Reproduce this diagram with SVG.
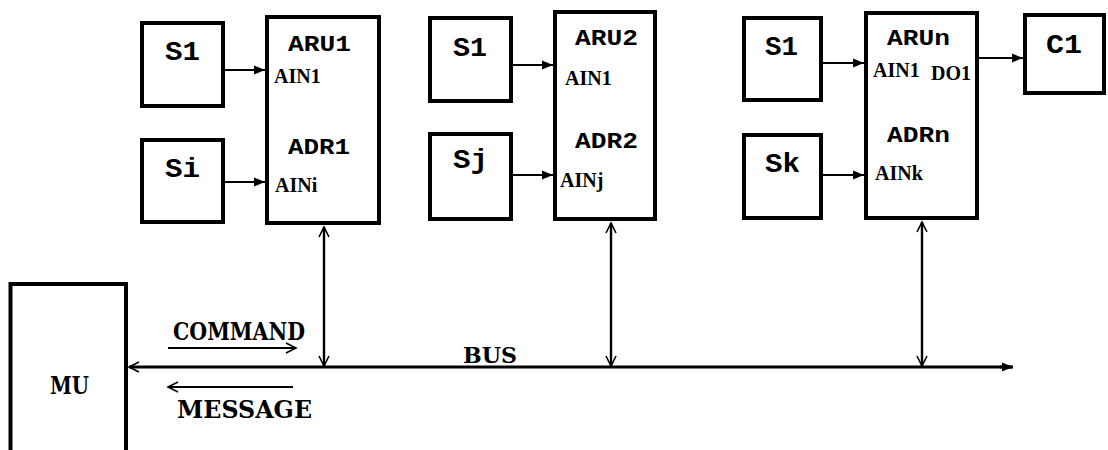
<svg xmlns="http://www.w3.org/2000/svg" width="1108" height="450" viewBox="0 0 1108 450">
<style>
.box{fill:#fff;stroke:#000;stroke-width:4}
.mono{font-family:"Liberation Mono","Courier New",monospace;font-weight:bold;fill:#000}
.big{font-size:28px}
.mid{font-size:22px}
.tm{font-family:"Liberation Serif","Times New Roman",serif;font-weight:bold;font-size:20px;fill:#000}
.sl{font-family:"DejaVu Serif","Liberation Serif",serif;font-weight:bold;fill:#000}
.ln{stroke:#000;fill:none}
</style>
<defs>
<marker id="fa" markerUnits="userSpaceOnUse" markerWidth="12" markerHeight="10" refX="11" refY="5" orient="auto"><path d="M0,0.5 L11,5 L0,9.5 Z" fill="#000"/></marker>
<marker id="oa" markerUnits="userSpaceOnUse" markerWidth="14" markerHeight="14" refX="11" refY="7" orient="auto-start-reverse"><path d="M1,2 L11,7 L1,12" fill="none" stroke="#000" stroke-width="1.6"/></marker>
</defs>
<g id="connectors">
<line class="ln" x1="225" y1="70" x2="265" y2="70" stroke-width="2" marker-end="url(#fa)"/>
<line class="ln" x1="225" y1="182" x2="265" y2="182" stroke-width="2" marker-end="url(#fa)"/>
<line class="ln" x1="513" y1="65" x2="553" y2="65" stroke-width="2" marker-end="url(#fa)"/>
<line class="ln" x1="513" y1="175" x2="553" y2="175" stroke-width="2" marker-end="url(#fa)"/>
<line class="ln" x1="823" y1="63" x2="864" y2="63" stroke-width="2" marker-end="url(#fa)"/>
<line class="ln" x1="823" y1="175" x2="864" y2="175" stroke-width="2" marker-end="url(#fa)"/>
<line class="ln" x1="979" y1="58" x2="1023" y2="58" stroke-width="2" marker-end="url(#fa)"/>
<line class="ln" x1="324" y1="227" x2="324" y2="366" stroke-width="2.4" marker-start="url(#oa)" marker-end="url(#oa)"/>
<line class="ln" x1="611" y1="223" x2="611" y2="366" stroke-width="2.4" marker-start="url(#oa)" marker-end="url(#oa)"/>
<line class="ln" x1="922" y1="222" x2="922" y2="366" stroke-width="2.4" marker-start="url(#oa)" marker-end="url(#oa)"/>
<line class="ln" x1="1012" y1="367" x2="129" y2="367" stroke-width="3" marker-end="url(#oa)"/>
<line class="ln" x1="1000" y1="367" x2="1013" y2="367" stroke-width="3" marker-end="url(#fa)"/>
<line class="ln" x1="168" y1="348" x2="296" y2="348" stroke-width="2" marker-end="url(#oa)"/>
<line class="ln" x1="293" y1="387" x2="168" y2="387" stroke-width="2" marker-end="url(#oa)"/>
</g>
<g id="s1a"><rect class="box" x="142" y="23" width="81" height="83"/><text class="mono big" x="165" y="60" textLength="35" lengthAdjust="spacingAndGlyphs">S1</text></g>
<g id="si"><rect class="box" x="142" y="140" width="81" height="82"/><text class="mono big" x="165" y="177" textLength="35" lengthAdjust="spacingAndGlyphs">Si</text></g>
<g id="aru1"><rect class="box" x="267" y="17" width="112" height="206"/>
<text class="mono mid" x="288" y="51" textLength="63" lengthAdjust="spacingAndGlyphs">ARU1</text>
<text class="tm" x="274" y="83">AIN1</text>
<text class="mono mid" x="288" y="154" textLength="62" lengthAdjust="spacingAndGlyphs">ADR1</text>
<text class="tm" x="275" y="192">AINi</text></g>
<g id="s1b"><rect class="box" x="430" y="18" width="81" height="83"/><text class="mono big" x="453" y="56" textLength="34" lengthAdjust="spacingAndGlyphs">S1</text></g>
<g id="sj"><rect class="box" x="430" y="134" width="81" height="85"/><text class="mono big" x="453" y="168" textLength="35" lengthAdjust="spacingAndGlyphs">Sj</text></g>
<g id="aru2"><rect class="box" x="555" y="12" width="100" height="207"/>
<text class="mono mid" x="575" y="45" textLength="63" lengthAdjust="spacingAndGlyphs">ARU2</text>
<text class="tm" x="565" y="85">AIN1</text>
<text class="mono mid" x="575" y="148" textLength="63" lengthAdjust="spacingAndGlyphs">ADR2</text>
<text class="tm" x="560" y="187">AINj</text></g>
<g id="s1c"><rect class="box" x="744" y="18" width="77" height="82"/><text class="mono big" x="765" y="55" textLength="33" lengthAdjust="spacingAndGlyphs">S1</text></g>
<g id="sk"><rect class="box" x="744" y="135" width="77" height="83"/><text class="mono big" x="765" y="172" textLength="35" lengthAdjust="spacingAndGlyphs">Sk</text></g>
<g id="arun"><rect class="box" x="866" y="13" width="111" height="205"/>
<text class="mono mid" x="887" y="45" textLength="63" lengthAdjust="spacingAndGlyphs">ARUn</text>
<text class="tm" x="873" y="77">AIN1</text>
<text class="tm" x="931" y="80">DO1</text>
<text class="mono mid" x="887" y="142" textLength="63" lengthAdjust="spacingAndGlyphs">ADRn</text>
<text class="tm" x="875" y="180">AINk</text></g>
<g id="c1"><rect class="box" x="1025" y="15" width="79" height="78"/><text class="mono big" x="1046" y="53" textLength="36" lengthAdjust="spacingAndGlyphs">C1</text></g>
<g id="mu"><path class="ln" d="M10.5,452 V284 H126 V452" stroke-width="4"/><text class="sl" x="50" y="394" font-size="24" textLength="39" lengthAdjust="spacingAndGlyphs">MU</text></g>
<g id="labels">
<text class="sl" x="173" y="340" font-size="24" textLength="132" lengthAdjust="spacingAndGlyphs">COMMAND</text>
<text class="sl" x="177" y="418" font-size="24" textLength="135" lengthAdjust="spacingAndGlyphs">MESSAGE</text>
<text class="sl" x="463" y="363" font-size="22" textLength="54" lengthAdjust="spacingAndGlyphs">BUS</text>
</g>
</svg>
